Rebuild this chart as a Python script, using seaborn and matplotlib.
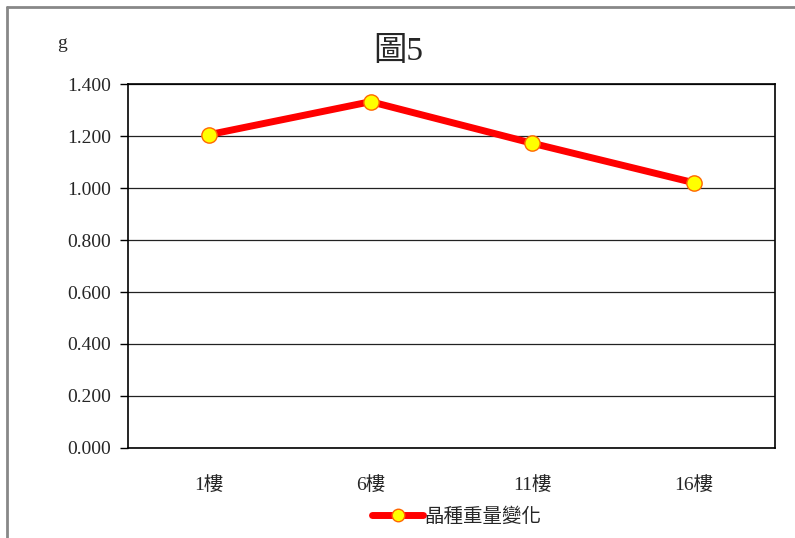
import pandas as pd
import matplotlib.pyplot as plt
import seaborn as sns
from matplotlib.lines import Line2D

# Data
floors = ['1樓', '6樓', '11樓', '16樓']
weights = [1.205, 1.332, 1.172, 1.020]
series_name = '晶種重量變化'
y_ticks = [0.0, 0.2, 0.4, 0.6, 0.8, 1.0, 1.2, 1.4]

df = pd.DataFrame({'floor': floors, 'weight': weights})

sns.set_style('white')
plt.rcParams['font.family'] = ['Liberation Serif', 'Noto Sans CJK TC']

fig = plt.figure(figsize=(7.95, 5.38), dpi=100)
ax = fig.add_axes([128 / 795, 1 - 448 / 538, (775 - 128) / 795, (448 - 84) / 538])

sns.lineplot(data=df, x='floor', y='weight', ax=ax, color='#ff0000', linewidth=5,
             marker='o', markersize=11, markerfacecolor='#ffff00',
             markeredgecolor='#ff6600', markeredgewidth=1.0, sort=False)

ax.set_xlim(-0.5, len(floors) - 0.5)
ax.set_ylim(0, 1.4)
ax.set_yticks(y_ticks)
ax.set_yticklabels([f'{v:.3f}' for v in y_ticks], fontsize=14)
ax.set_xticks(range(len(floors)))
ax.set_xticklabels(floors, fontsize=14)
ax.set_xticks([i - 0.5 for i in range(len(floors) + 1)], minor=True)
ax.tick_params(axis='x', which='major', length=0, pad=20)
ax.tick_params(axis='x', which='minor', length=5, width=1, direction='out', color='black')
ax.tick_params(axis='y', length=6, width=1, direction='out', color='black', left=True, pad=6)
ax.grid(axis='y', color='#222222', linewidth=0.9)
ax.set_axisbelow(True)
for s in ax.spines.values():
    s.set_color('black')
    s.set_linewidth(1.2)
ax.set_xlabel('')
ax.set_ylabel('')

fig.text(62 / 795, 1 - 43 / 538, 'g', fontsize=14, ha='center', va='center')
fig.text(398 / 795, 1 - 52 / 538, '圖5', fontsize=24,
         ha='center', va='center')

handle = Line2D([], [], color='#ff0000', linewidth=5, marker='o', markersize=9,
                markerfacecolor='#ffff00', markeredgecolor='#ff6600')
fig.legend([handle], [series_name], loc='center', bbox_to_anchor=(457 / 795, 1 - 517 / 538),
           frameon=False, fontsize=14, handlelength=2.6, handletextpad=0.1)

# outer chart border (top and left edges visible)
fig.add_artist(Line2D([7 / 795, 1], [1 - 7 / 538, 1 - 7 / 538], color='#888888', linewidth=2))
fig.add_artist(Line2D([7 / 795, 7 / 795], [0, 1 - 7 / 538], color='#888888', linewidth=2))

fig.savefig('out.png', dpi=100)
